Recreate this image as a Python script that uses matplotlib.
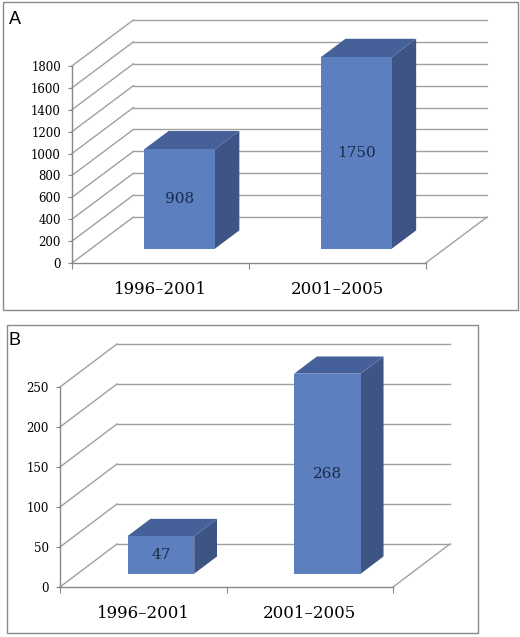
"""Two pseudo-3D column charts (Excel style) for panels A and B."""

import matplotlib.pyplot as plt
from matplotlib.patches import Rectangle
import numpy as np

periods = ["1996–2001", "2001–2005"]
counts_a = [908, 1750]
counts_b = [47, 268]
yticks_a = list(range(0, 1801, 200))
yticks_b = list(range(0, 251, 50))

W, H = 520, 637
GRID = "#a0a0a0"
AXIS = "#888888"
FRONT = "#5b7fbf"
TOP = "#46619a"
SIDE = "#3d5484"
LABEL = "#1b2a4a"
SERIF = "DejaVu Serif"


def px_rect(x0, y0, x1, y1):
    return [x0 / W, (H - y1) / H, (x1 - x0) / W, (y1 - y0) / H]


def draw_panel(ax, values, yticks, dx, dy_frac, f0=0.31, f1=0.71):
    ncat = len(values)
    ymax = yticks[-1]
    dy = dy_frac * ymax
    ax.set_xlim(0, ncat + dx)
    ax.set_ylim(0, ymax + dy)
    for s in ax.spines.values():
        s.set_visible(False)

    # back wall gridlines and side wall diagonals
    for v in yticks:
        ax.plot([dx, ncat + dx], [v + dy, v + dy], color=GRID, lw=1, clip_on=False, zorder=1)
        ax.plot([0, dx], [v, v + dy], color=GRID, lw=1, clip_on=False, zorder=1)
    # floor right edge
    ax.plot([ncat, ncat + dx], [0, dy], color=GRID, lw=1, clip_on=False, zorder=1)
    # front axes
    ax.plot([0, 0], [0, ymax], color=AXIS, lw=1, clip_on=False, zorder=2)
    ax.plot([0, ncat], [0, 0], color=AXIS, lw=1, clip_on=False, zorder=2)

    # bars are cut off at the axis maximum, as in the original
    heights = np.minimum(values, ymax)
    for i, (val, h) in enumerate(zip(values, heights)):
        x0, x1 = i + 0.3, i + 0.7
        a, b = f0 * dx, f1 * dx
        c, d = f0 * dy, f1 * dy
        front = [(x0 + a, c), (x1 + a, c), (x1 + a, h + c), (x0 + a, h + c)]
        top = [(x0 + a, h + c), (x1 + a, h + c), (x1 + b, h + d), (x0 + b, h + d)]
        side = [(x1 + a, c), (x1 + b, d), (x1 + b, h + d), (x1 + a, h + c)]
        for poly, col in ((side, SIDE), (top, TOP), (front, FRONT)):
            xs, ys = zip(*poly)
            ax.fill(xs, ys, color=col, lw=0, zorder=3)
        ax.text(i + 0.5 + a, h / 2 + c, str(val), ha="center", va="center",
                fontsize=11, color=LABEL, family=SERIF, zorder=4)

    ax.set_yticks(yticks)
    ax.set_yticklabels([str(v) for v in yticks], family=SERIF, fontsize=8.5)
    ax.tick_params(axis="y", length=3, color=AXIS, pad=5)
    ax.set_xticks(range(ncat + 1))
    ax.set_xticklabels([])
    ax.set_xticks([i + 0.5 for i in range(ncat)], minor=True)
    ax.set_xticklabels(periods, minor=True, family=SERIF, fontsize=12)
    ax.tick_params(axis="x", which="major", length=4, color=AXIS)
    ax.tick_params(axis="x", which="minor", length=0, pad=13)


fig = plt.figure(figsize=(W / 100, H / 100), dpi=100)

fig.patches.append(Rectangle((3 / W, 1 - 310 / H), 515 / W, 308 / H, transform=fig.transFigure,
                             fill=False, edgecolor="#8a8a8a", lw=1))
fig.patches.append(Rectangle((7 / W, 1 - 633 / H), 471 / W, 308 / H, transform=fig.transFigure,
                             fill=False, edgecolor="#8a8a8a", lw=1))
fig.text(9 / W, 1 - 19 / H, "A", fontsize=13, va="center", family="Liberation Sans")
fig.text(9 / W, 1 - 341 / H, "B", fontsize=13, va="center", family="Liberation Sans")

ax_a = fig.add_axes(px_rect(72, 20, 487, 263))
draw_panel(ax_a, counts_a, yticks_a, dx=0.347, dy_frac=0.233)

ax_b = fig.add_axes(px_rect(60, 344, 450, 587))
draw_panel(ax_b, counts_b, yticks_b, dx=0.342, dy_frac=0.215)

plt.savefig("out.png", dpi=100)
plt.close()
